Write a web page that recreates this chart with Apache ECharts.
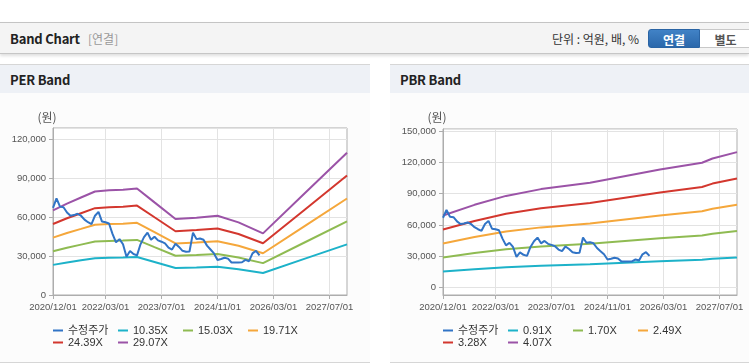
<!DOCTYPE html>
<html>
<head>
<meta charset="utf-8">
<script src="https://cdn.jsdelivr.net/npm/echarts@6/dist/echarts.min.js"></script>
<style>
html,body{margin:0;padding:0}
body{width:749px;height:364px;overflow:hidden;background:#fff;position:relative;font-family:'Noto Sans CJK KR','Noto Sans',sans-serif}
.hdr{position:absolute;left:0;top:22px;width:749px;height:30px;background:#f4f4f4;border-top:1px solid #c4c4c4;border-bottom:1px solid #c6c6c6;box-shadow:0 2px 3px rgba(0,0,0,0.13)}
.t{position:absolute;white-space:nowrap;line-height:16px}
.btn{position:absolute;top:6px;height:19px;line-height:19px;text-align:center;font-size:12px;font-weight:bold;box-sizing:border-box}
.panel{position:absolute;top:64px;height:297px;border-top:1px solid #d6d6d6;border-bottom:1px solid #d6d6d6;background:#fcfcfc}
.ptitle{height:28px;background:#eef1f6;font-size:13px;font-weight:bold;color:#222;line-height:30px;padding-left:10px;letter-spacing:-0.2px}
.chart{position:absolute;top:93px;height:269px}
</style>
</head>
<body>
<div class="hdr">
  <div class="t" style="left:10px;top:8px;font-size:13px;font-weight:bold;color:#222;letter-spacing:-0.2px">Band Chart</div>
  <div class="t" style="left:88px;top:8px;font-size:12px;color:#999">[연결]</div>
  <div class="t" style="left:552px;top:8px;font-size:12px;color:#333">단위 : 억원, 배, %</div>
  <div class="btn" style="left:648px;width:52px;color:#fff;background:linear-gradient(#4182c6,#2b68ab);border:1px solid #2a64a4;border-radius:3px 0 0 3px">연결</div>
  <div class="btn" style="left:700px;width:52px;color:#555;background:#fff;border:1px solid #c8c8c8;border-left:none">별도</div>
</div>
<div class="panel" style="left:0;width:370px"><div class="ptitle">PER Band</div></div>
<div class="panel" style="left:390px;width:359px"><div class="ptitle">PBR Band</div></div>
<div id="per" class="chart" style="left:0;width:370px"></div>
<div id="pbr" class="chart" style="left:390px;width:359px"></div>
<script>
// ---------- data ----------
const xTickLabels = ['2020/12/01', '2022/03/01', '2023/07/01', '2024/11/01', '2026/03/01', '2027/07/01'];
const perYTicks = [0, 30000, 60000, 90000, 120000];
const pbrYTicks = [0, 30000, 60000, 90000, 120000, 150000];

const priceName = '수정주가';
// monthly adjusted price from 2020/12
const price = [67000, 74400, 68000, 67500, 63500, 61000, 61500, 62500, 61000, 58000,
  56000, 54500, 61000, 64000, 56500, 56000, 55000, 47000, 40500, 43000,
  39000, 29500, 33800, 31500, 30500, 39000, 44500, 48000, 42500, 44800,
  42000, 41000, 39700, 36500, 35000, 39500, 37000, 34000, 33300, 33500,
  48000, 43000, 43500, 42500, 38000, 35000, 32000, 27000, 27700, 28700,
  28000, 25000, 25000, 25000, 25200, 27000, 26000, 32000, 34000, 30500];

const perNames = ['10.35X', '15.03X', '19.71X', '24.39X', '29.07X'];
const perDates = ['2020/12/01', '2021/04/01', '2021/08/01', '2021/12/01', '2022/04/01', '2022/08/01', '2022/12/01',
  '2023/05/01', '2023/11/01', '2024/05/01', '2024/11/01', '2025/05/01', '2025/12/01', '2026/12/01', '2027/12/01'];
const per1035 = [23180, 25050, 26700, 28360, 28670, 28820, 29190, 25380, 20820, 21190, 21710, 19900, 16880, 27950, 38990];
const per1503 = [33670, 36370, 38780, 41180, 41630, 41860, 42380, 36850, 30240, 30770, 31530, 28900, 24510, 40580, 56620];
const per1971 = [44150, 47700, 50850, 54010, 54600, 54890, 55580, 48330, 39660, 40350, 41350, 37900, 32150, 53220, 74250];
const per2439 = [54630, 59020, 62930, 66830, 67560, 67930, 68780, 59800, 49070, 49930, 51170, 46900, 39780, 65850, 91880];
const per2907 = [65120, 70350, 75000, 79650, 80520, 80960, 81980, 71280, 58490, 59510, 60990, 55900, 47410, 78490, 109510];

const pbrNames = ['0.91X', '1.70X', '2.49X', '3.28X', '4.07X'];
const pbrDates = ['2020/12/01', '2021/09/01', '2022/06/01', '2023/04/01', '2024/06/01', '2026/02/01', '2027/02/01', '2027/05/01', '2027/12/01'];
const pbr091 = [15470, 17750, 19660, 21110, 22480, 25300, 26750, 27660, 29030];
const pbr170 = [28900, 33150, 36720, 39440, 41990, 47260, 49980, 51680, 54230];
const pbr249 = [42330, 48560, 53780, 57770, 61500, 69220, 73210, 75700, 79430];
const pbr328 = [55760, 63960, 70850, 76100, 81020, 91180, 96430, 99710, 104630];
const pbr407 = [69190, 79370, 87910, 94420, 100530, 113150, 119660, 123730, 129830];

const colors = ['#3174c6', '#1db2c9', '#8fbb52', '#f5a73b', '#d3372e', '#9b53a7'];

// monthly category axis 2020/12 .. 2027/12
const months = [];
{ let y = 2020, m = 12; while (!(y === 2028 && m === 1)) { months.push(y + '/' + String(m).padStart(2, '0') + '/01'); m++; if (m > 12) { m = 1; y++; } } }

const axisFont = "'Liberation Sans',sans-serif";
const isLbl = (i, v) => xTickLabels.indexOf(v) >= 0;

function legendRow(names, top) {
  return {
    data: names, left: 53, top: top, padding: 0, itemGap: 5, itemWidth: 10, itemHeight: 2,
    icon: 'rect', selectedMode: false,
    formatter: n => '{t|' + n + '}',
    textStyle: { rich: { t: { width: 45, fontSize: 11, lineHeight: 12, color: '#333', fontFamily: "'Liberation Sans','Noto Sans CJK KR',sans-serif" } } }
  };
}

function build(cfg) {
  const series = [];
  cfg.names.forEach((n, k) => {
    series.push({
      name: n, type: 'line', showSymbol: false, symbol: 'none', animation: false,
      lineStyle: { width: 2, color: colors[k + 1] }, itemStyle: { color: colors[k + 1] },
      data: cfg.dates.map((d, i) => [d, cfg.bands[k][i]])
    });
  });
  series.push({
    name: priceName, type: 'line', showSymbol: false, symbol: 'none', animation: false,
    lineStyle: { width: 2, color: colors[0] }, itemStyle: { color: colors[0] },
    data: price
  });
  const allNames = [priceName].concat(cfg.names);
  return {
    animation: false,
    grid: { left: 53, right: cfg.right, top: cfg.top, bottom: 67, show: true, borderColor: '#adadad', borderWidth: 1, z: -1, backgroundColor: '#fff' },
    legend: [legendRow(allNames.slice(0, 4), 232), legendRow(allNames.slice(4), 244)],
    xAxis: {
      type: 'category', data: months, boundaryGap: false,
      axisLine: { onZero: false, lineStyle: { color: '#adadad' } },
      axisTick: { show: true, length: 4, interval: isLbl, lineStyle: { color: '#adadad' } },
      axisLabel: { interval: isLbl, color: '#555', fontSize: 9.5, fontFamily: axisFont, margin: 7 },
      splitLine: { show: true, interval: isLbl, lineStyle: { color: '#e3e3e3' } }
    },
    yAxis: Object.assign({
      type: 'value',
      name: '(원)', nameLocation: 'end', nameGap: cfg.nameGap,
      nameTextStyle: { color: '#555', fontSize: 12, fontFamily: 'Noto Sans CJK KR', padding: [0, 12, 0, 0] },
      axisLine: { show: true, lineStyle: { color: '#adadad' } },
      axisTick: { show: true, length: 4, lineStyle: { color: '#adadad' } },
      axisLabel: {
        showMinLabel: cfg.yMin >= 0, showMaxLabel: false,
        color: '#555', fontSize: 9.5, fontFamily: axisFont, margin: 7,
        formatter: v => (cfg.yTicks.indexOf(v) >= 0 ? v.toLocaleString('en-US') : '')
      },
      splitLine: { show: true, lineStyle: { color: '#e3e3e3' } }
    }, cfg.yRange),
    series: series
  };
}

const perChart = echarts.init(document.getElementById('per'), null, { renderer: 'canvas' });
perChart.setOption(build({
  names: perNames, dates: perDates, bands: [per1035, per1503, per1971, per2439, per2907],
  right: 23, top: 35, nameGap: 5, yTicks: perYTicks, yMin: 0,
  yRange: { min: 0, max: 128500, interval: 30000 }
}));

const pbrChart = echarts.init(document.getElementById('pbr'), null, { renderer: 'canvas' });
pbrChart.setOption(build({
  names: pbrNames, dates: pbrDates, bands: [pbr091, pbr170, pbr249, pbr328, pbr407],
  right: 12, top: 36, nameGap: 6, yTicks: pbrYTicks, yMin: -7000,
  yRange: { min: -7000, max: 152000, minInterval: 30000, maxInterval: 30000 }
}));
</script>
</body>
</html>
